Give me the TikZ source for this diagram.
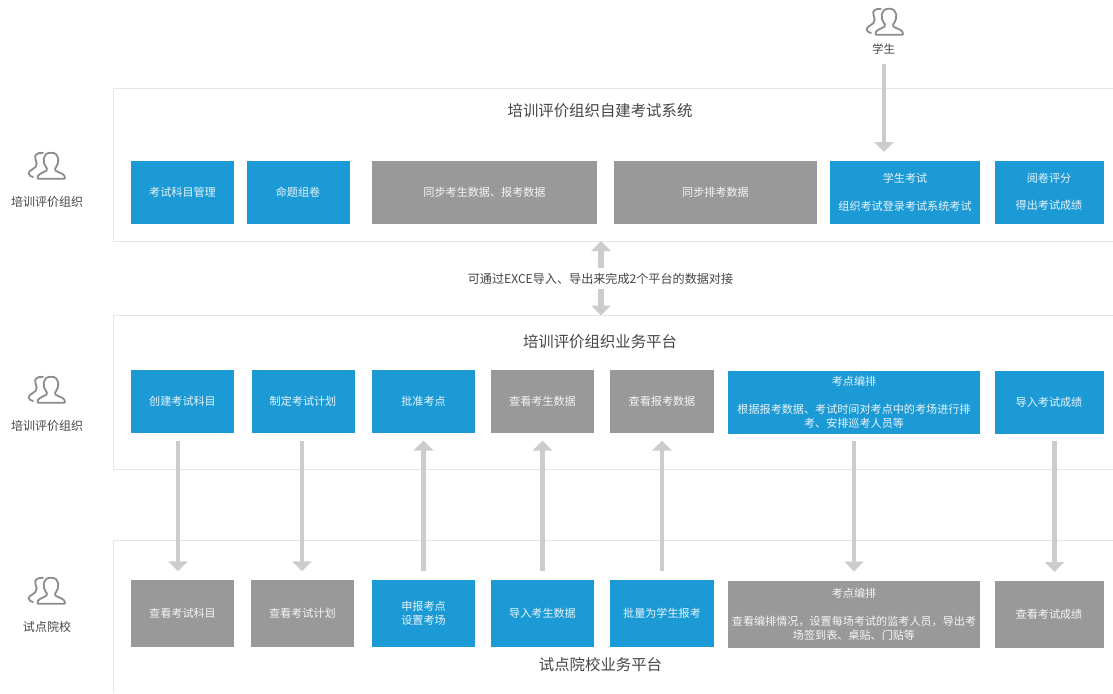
\documentclass[tikz,border=0pt]{standalone}
\usepackage{fontspec}
\setmainfont{Noto Sans CJK SC}
\usetikzlibrary{arrows.meta}
\definecolor{bluefill}{HTML}{1C9AD6}
\definecolor{greyfill}{HTML}{999999}
\definecolor{flowgrey}{HTML}{CCCCCC}
\definecolor{panelline}{HTML}{E6E6E6}
\definecolor{inkgrey}{HTML}{444444}
\definecolor{icongrey}{HTML}{8C8C8C}
\tikzset{
  boxbase/.style={inner sep=0pt,outer sep=0pt,align=center,font=\fontsize{11.1}{13.8}\selectfont},
  bluebox/.style={boxbase,fill=bluefill,text=white!90!bluefill},
  greybox/.style={boxbase,fill=greyfill,text=white!90!greyfill},
  panel/.style={draw=panelline,line width=1pt},
  heading/.style={inner sep=0pt,text=inkgrey,font=\fontsize{15.4}{18}\selectfont},
  rolelabel/.style={inner sep=0pt,text=inkgrey,font=\fontsize{12}{14}\selectfont},
  flow/.style={draw=flowgrey,line width=4.5pt,-{Triangle[width=19pt,length=10pt]}},
  wideflow/.style={flow,line width=5.6pt},
  personicon/.pic={
    \draw[draw=icongrey,line width=1.8pt,line join=round,rounded corners=0.6pt]
      (9.5,26.7) .. controls (9.5,22) and (13,21.5) .. (18,19)
      .. controls (19.5,18) and (19.5,17) .. (18.5,16)
      .. controls (14.5,11) and (14,0.8) .. (23,0.8)
      .. controls (32,0.8) and (31.5,11) .. (27.5,16)
      .. controls (26.5,17) and (26.5,18) .. (28,19)
      .. controls (33,21.5) and (37,22) .. (37,26.7) -- cycle;
    \draw[draw=icongrey,line width=1.8pt,line cap=round]
      (15,0.8) .. controls (9,0.5) and (6,3) .. (7.5,7)
      .. controls (8.5,10) and (9.5,13) .. (7.5,15)
      .. controls (4,18) and (0.7,19) .. (0.7,21.5)
      .. controls (0.7,23.5) and (3,24.5) .. (5,25);
  }
}
\begin{document}
\begin{tikzpicture}[x=1pt,y=-1pt]
\useasboundingbox (0,0) rectangle (1113,693);
% panels
\draw[panel] (1113,88) -- (113.5,88) -- (113.5,241) -- (1113,241);
\draw[panel] (1113,315.5) -- (113.5,315.5) -- (113.5,469) -- (1113,469);
\draw[panel] (1113,540) -- (113.5,540) -- (113.5,693);
\coordinate (p1b) at (601,241);
\coordinate (p2t) at (601,315.5);
% headings
\node[heading] (t1) at (600,110.5) {培训评价组织自建考试系统};
\node[heading] (t2) at (600,342) {培训评价组织业务平台};
\node[heading] (t3) at (600.5,665) {试点院校业务平台};
% roles
\pic at (28,152) {personicon};
\pic at (28,376) {personicon};
\pic at (28,577) {personicon};
\pic at (866,8) {personicon};
\node[rolelabel] (r1) at (47,201.5) {培训评价组织};
\node[rolelabel] (r2) at (47,426) {培训评价组织};
\node[rolelabel] (r3) at (47,627) {试点院校};
\node[rolelabel,font=\fontsize{11.5}{14}\selectfont] (stu) at (883.5,49) {学生};
\node[rolelabel,font=\fontsize{12.1}{14}\selectfont] (lbl) at (600.5,278.5) {可通过EXCE导入、导出来完成2个平台的数据对接};
% row 1
\node[bluebox,minimum width=103pt,minimum height=63pt] (a1) at (182.5,192) {考试科目管理};
\node[bluebox,minimum width=103pt,minimum height=63pt] (a2) at (298,192) {命题组卷};
\node[greybox,minimum width=225pt,minimum height=63pt] (a3) at (484.5,192) {同步考生数据、报考数据};
\node[greybox,minimum width=203pt,minimum height=63pt] (a4) at (715.5,192) {同步排考数据};
\node[bluebox,minimum width=150pt,minimum height=63pt] (a5) at (905,192) {学生考试\\[13.8pt]组织考试登录考试系统考试};
\node[bluebox,minimum width=109pt,minimum height=63pt] (a6) at (1049,192) {阅卷评分\\[13.8pt]得出考试成绩};
% row 2
\node[bluebox,minimum width=103pt,minimum height=63pt] (b1) at (182.5,401.5) {创建考试科目};
\node[bluebox,minimum width=103pt,minimum height=63pt] (b2) at (303,401.5) {制定考试计划};
\node[bluebox,minimum width=103pt,minimum height=63pt] (b3) at (423.5,401.5) {批准考点};
\node[greybox,minimum width=103pt,minimum height=63pt] (b4) at (542.5,401.5) {查看考生数据};
\node[greybox,minimum width=104pt,minimum height=63pt] (b5) at (662,401.5) {查看报考数据};
\node[bluebox,minimum width=252pt,minimum height=63pt] (b6) at (854,402.2) {考点编排\\[13.8pt]根据报考数据、考试时间对考点中的考场进行排\\考、安排巡考人员等};
\node[bluebox,minimum width=109pt,minimum height=63pt] (b7) at (1049,402.2) {导入考试成绩};
% row 3
\node[greybox,minimum width=103pt,minimum height=67.5pt] (c1) at (182.5,613.5) {查看考试科目};
\node[greybox,minimum width=103pt,minimum height=67.5pt] (c2) at (302.3,613.5) {查看考试计划};
\node[bluebox,minimum width=103pt,minimum height=67.5pt] (c3) at (423.5,613.5) {申报考点\\设置考场};
\node[bluebox,minimum width=103pt,minimum height=67.5pt] (c4) at (542.5,613.5) {导入考生数据};
\node[bluebox,minimum width=104pt,minimum height=67.5pt] (c5) at (662,613.5) {批量为学生报考};
\node[greybox,minimum width=252pt,minimum height=67.5pt] (c6) at (854,614.3) {考点编排\\[13.8pt]查看编排情况，设置每场考试的监考人员，导出考\\场签到表、桌贴、门贴等};
\node[greybox,minimum width=109pt,minimum height=67.5pt] (c7) at (1049,614.3) {查看考试成绩};
% connectors
\draw[flow] ([shift={(0.5pt,-15pt)}]stu.center) -- ([shift={(-21pt,8.5pt)}]a5.north);
\draw[wideflow] ([shift={(0.5pt,10.5pt)}]lbl.center) -- (p1b);
\draw[wideflow] ([shift={(0.5pt,-10.5pt)}]lbl.center) -- (p2t);
\draw[flow] ([shift={(-4.5pt,-7.5pt)}]b1.south) -- ([shift={(-4.5pt,8.5pt)}]c1.north);
\draw[flow] ([shift={(-1pt,-7.5pt)}]b2.south) -- ([shift={(-0.3pt,8.5pt)}]c2.north);
\draw[flow] ([yshift=8.5pt]c3.north) -- ([yshift=-7.5pt]b3.south);
\draw[flow] ([yshift=8.5pt]c4.north) -- ([yshift=-7.5pt]b4.south);
\draw[flow] ([yshift=8.5pt]c5.north) -- ([yshift=-7.5pt]b5.south);
\draw[flow] ([yshift=-7.5pt]b6.south) -- ([yshift=9pt]c6.north);
\draw[flow] ([shift={(5.5pt,-7.5pt)}]b7.south) -- ([shift={(5.5pt,8.5pt)}]c7.north);
\end{tikzpicture}
\end{document}
